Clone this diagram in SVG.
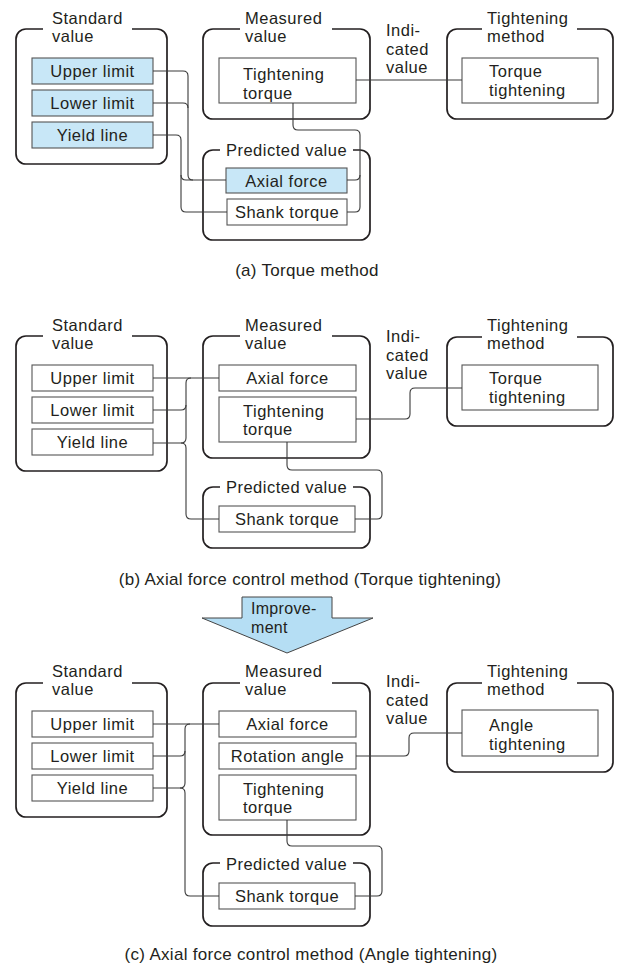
<svg xmlns="http://www.w3.org/2000/svg" width="618" height="967" viewBox="0 0 618 967">
<style>
.grp{fill:none;stroke:#231f20;stroke-width:1.7}
.box{fill:#fff;stroke:#555;stroke-width:1.1}
.hl{fill:#c8e7f7}
.ln{fill:none;stroke:#3a3a3a;stroke-width:1.1}
text{font-family:"Liberation Sans",Arial,Helvetica,sans-serif;font-size:16.5px;fill:#231f20;letter-spacing:0.5px}
.c{text-anchor:middle}
.cap{font-size:17px;text-anchor:middle;letter-spacing:0.3px}
.arrow{fill:#b5def4;stroke:#444;stroke-width:1}
</style>
<rect width="618" height="967" fill="#fff"/>

<!-- ============ (a) ============ -->
<g id="a-standard">
<path class="grp" d="M43,29 H26 A10,10 0 0 0 16,39 V154 A10,10 0 0 0 26,164 H157 A10,10 0 0 0 167,154 V39 A10,10 0 0 0 157,29 H132"/>
<text x="52" y="23.5">Standard</text><text x="52" y="42">value</text>
</g>
<g id="a-upper"><rect class="box hl" x="32" y="58" width="121" height="26"/><text class="c" x="92.5" y="77">Upper limit</text></g>
<g id="a-lower"><rect class="box hl" x="32" y="90" width="121" height="26"/><text class="c" x="92.5" y="109">Lower limit</text></g>
<g id="a-yield"><rect class="box hl" x="32" y="122" width="121" height="26"/><text class="c" x="92.5" y="141">Yield line</text></g>

<g id="a-measured">
<path class="grp" d="M240,29 H213 A10,10 0 0 0 203,39 V109 A10,10 0 0 0 213,119 H360 A10,10 0 0 0 370,109 V39 A10,10 0 0 0 360,29 H332"/>
<text x="245" y="23.5">Measured</text><text x="245" y="42">value</text>
</g>
<g id="a-ttorque"><rect class="box" x="219" y="58" width="137" height="45"/><text x="243" y="80">Tightening</text><text x="243" y="98.5">torque</text></g>

<g id="a-method">
<path class="grp" d="M482,29 H457 A10,10 0 0 0 447,39 V109 A10,10 0 0 0 457,119 H603 A10,10 0 0 0 613,109 V39 A10,10 0 0 0 603,29 H577"/>
<text x="487" y="23.5">Tightening</text><text x="487" y="42">method</text>
</g>
<g id="a-torquetight"><rect class="box" x="462" y="58" width="136" height="45"/><text x="489" y="77">Torque</text><text x="489" y="95.5">tightening</text></g>
<g id="a-indicated"><text x="386" y="36">Indi-</text><text x="386" y="54.5">cated</text><text x="386" y="73">value</text></g>

<g id="a-predicted">
<path class="grp" d="M220,150 H213 A10,10 0 0 0 203,160 V230 A10,10 0 0 0 213,240 H360 A10,10 0 0 0 370,230 V160 A10,10 0 0 0 360,150 H353"/>
<text class="c" x="286.5" y="156">Predicted value</text>
</g>
<g id="a-axial"><rect class="box hl" x="226" y="168" width="121" height="25"/><text class="c" x="286.5" y="186.5">Axial force</text></g>
<g id="a-shank"><rect class="box" x="227" y="199" width="120" height="26"/><text class="c" x="287" y="218">Shank torque</text></g>

<text class="cap" x="307" y="276">(a) Torque method</text>

<!-- ============ (b) ============ -->
<g id="b-standard">
<path class="grp" d="M43,336 H26 A10,10 0 0 0 16,346 V461 A10,10 0 0 0 26,471 H157 A10,10 0 0 0 167,461 V346 A10,10 0 0 0 157,336 H132"/>
<text x="52" y="330.5">Standard</text><text x="52" y="349">value</text>
</g>
<g id="b-upper"><rect class="box" x="32" y="365" width="121" height="26"/><text class="c" x="92.5" y="384">Upper limit</text></g>
<g id="b-lower"><rect class="box" x="32" y="397" width="121" height="26"/><text class="c" x="92.5" y="416">Lower limit</text></g>
<g id="b-yield"><rect class="box" x="32" y="429" width="121" height="26"/><text class="c" x="92.5" y="448">Yield line</text></g>

<g id="b-measured">
<path class="grp" d="M240,336 H213 A10,10 0 0 0 203,346 V448 A10,10 0 0 0 213,458 H360 A10,10 0 0 0 370,448 V346 A10,10 0 0 0 360,336 H332"/>
<text x="245" y="330.5">Measured</text><text x="245" y="349">value</text>
</g>
<g id="b-axial"><rect class="box" x="219" y="365" width="137" height="26"/><text class="c" x="287.5" y="384">Axial force</text></g>
<g id="b-ttorque"><rect class="box" x="219" y="397" width="137" height="45"/><text x="243" y="416.5">Tightening</text><text x="243" y="435">torque</text></g>

<g id="b-method">
<path class="grp" d="M482,337 H457 A10,10 0 0 0 447,347 V416 A10,10 0 0 0 457,426 H603 A10,10 0 0 0 613,416 V347 A10,10 0 0 0 603,337 H577"/>
<text x="487" y="330.5">Tightening</text><text x="487" y="349">method</text>
</g>
<g id="b-torquetight"><rect class="box" x="462" y="365" width="136" height="45"/><text x="489" y="384">Torque</text><text x="489" y="402.5">tightening</text></g>
<g id="b-indicated"><text x="386" y="342">Indi-</text><text x="386" y="360.5">cated</text><text x="386" y="379">value</text></g>

<g id="b-predicted">
<path class="grp" d="M220,487 H213 A10,10 0 0 0 203,497 V538 A10,10 0 0 0 213,548 H360 A10,10 0 0 0 370,538 V497 A10,10 0 0 0 360,487 H353"/>
<text class="c" x="286.5" y="493">Predicted value</text>
</g>
<g id="b-shank"><rect class="box" x="219" y="506" width="136" height="26"/><text class="c" x="287" y="525">Shank torque</text></g>

<text class="cap" x="310" y="585">(b) Axial force control method (Torque tightening)</text>

<!-- arrow -->
<g id="improvement">
<polygon class="arrow" points="242,597 332,597 332,618 373,618 287,653 202,618 242,618"/>
<text x="251" y="614" style="font-size:16px;letter-spacing:0.3px">Improve-</text><text x="251" y="632.5" style="font-size:16px;letter-spacing:0.3px">ment</text>
</g>

<!-- ============ (c) ============ -->
<g id="c-standard">
<path class="grp" d="M43,683 H26 A10,10 0 0 0 16,693 V807 A10,10 0 0 0 26,817 H157 A10,10 0 0 0 167,807 V693 A10,10 0 0 0 157,683 H132"/>
<text x="52" y="676.5">Standard</text><text x="52" y="695">value</text>
</g>
<g id="c-upper"><rect class="box" x="32" y="711" width="121" height="26"/><text class="c" x="92.5" y="730">Upper limit</text></g>
<g id="c-lower"><rect class="box" x="32" y="743" width="121" height="26"/><text class="c" x="92.5" y="762">Lower limit</text></g>
<g id="c-yield"><rect class="box" x="32" y="775" width="121" height="26"/><text class="c" x="92.5" y="794">Yield line</text></g>

<g id="c-measured">
<path class="grp" d="M240,683 H213 A10,10 0 0 0 203,693 V825 A10,10 0 0 0 213,835 H360 A10,10 0 0 0 370,825 V693 A10,10 0 0 0 360,683 H332"/>
<text x="245" y="676.5">Measured</text><text x="245" y="695">value</text>
</g>
<g id="c-axial"><rect class="box" x="219" y="711" width="137" height="26"/><text class="c" x="287.5" y="730">Axial force</text></g>
<g id="c-rotation"><rect class="box" x="219" y="743" width="137" height="26"/><text class="c" x="287.5" y="762">Rotation angle</text></g>
<g id="c-ttorque"><rect class="box" x="219" y="775" width="137" height="45"/><text x="243" y="794.5">Tightening</text><text x="243" y="813">torque</text></g>

<g id="c-method">
<path class="grp" d="M482,683 H457 A10,10 0 0 0 447,693 V762 A10,10 0 0 0 457,772 H603 A10,10 0 0 0 613,762 V693 A10,10 0 0 0 603,683 H577"/>
<text x="487" y="676.5">Tightening</text><text x="487" y="695">method</text>
</g>
<g id="c-angletight"><rect class="box" x="462" y="710" width="136" height="46"/><text x="489" y="731">Angle</text><text x="489" y="749.5">tightening</text></g>
<g id="c-indicated"><text x="386" y="687">Indi-</text><text x="386" y="705.5">cated</text><text x="386" y="724">value</text></g>

<g id="c-predicted">
<path class="grp" d="M220,863 H213 A10,10 0 0 0 203,873 V916 A10,10 0 0 0 213,926 H360 A10,10 0 0 0 370,916 V873 A10,10 0 0 0 360,863 H353"/>
<text class="c" x="286.5" y="870">Predicted value</text>
</g>
<g id="c-shank"><rect class="box" x="219" y="883" width="136" height="26"/><text class="c" x="287" y="902">Shank torque</text></g>

<text class="cap" x="311" y="960">(c) Axial force control method (Angle tightening)</text>

<!-- ============ connectors ============ -->
<g id="connectors" class="ln">
<!-- (a) -->
<path d="M153,71 H183 Q188,71 188,76 V175 Q188,180 193,180 H226"/>
<path d="M153,103 H183 Q188,103 188,108"/>
<path d="M153,135 H176 Q181,135 181,140 V207 Q181,212 186,212 H227"/>
<path d="M181,175 Q181,180 186,180 H193"/>
<path d="M293,103 V125 Q293,130 298,130 H355 Q360,130 360,135 V175 Q360,180 355,180 H347"/>
<path d="M360,175 V207 Q360,212 355,212 H347"/>
<path d="M356,80 H462"/>
<!-- (b) -->
<path d="M153,378 H219"/>
<path d="M153,410 H181 Q186,410 186,405 V383 Q186,378 191,378"/>
<path d="M153,443 H181 Q186,443 186,438 V405"/>
<path d="M181,443 Q186,443 186,448 V514 Q186,519 191,519 H219"/>
<path d="M287,442 V465 Q287,470 292,470 H377 Q382,470 382,475 V514 Q382,519 377,519 H355"/>
<path d="M356,419 H405 Q410,419 410,414 V393 Q410,388 415,388 H462"/>
<!-- (c) -->
<path d="M153,724 H219"/>
<path d="M153,756 H180 Q185,756 185,751 V729 Q185,724 190,724"/>
<path d="M153,788 H180 Q185,788 185,783 V751"/>
<path d="M180,788 Q185,788 185,793 V891 Q185,896 190,896 H219"/>
<path d="M287,820 V841 Q287,846 292,846 H377 Q382,846 382,851 V891 Q382,896 377,896 H355"/>
<path d="M356,756 H404 Q409,756 409,751 V738 Q409,733 414,733 H462"/>
</g>
</svg>
